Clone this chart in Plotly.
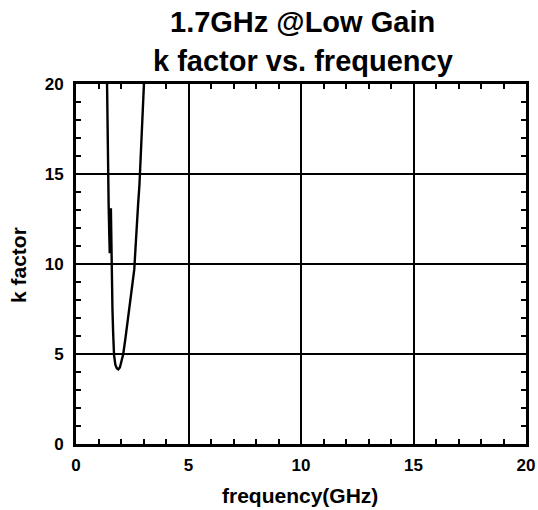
import plotly.graph_objects as go

# k factor sweep around the 1.7 GHz band (low gain mode)
freq_ghz = [1.38, 1.40, 1.42, 1.45, 1.48, 1.50, 1.55, 1.57, 1.59, 1.62, 1.65, 1.69,
            1.75, 1.82, 1.88, 1.95, 2.02, 2.10, 2.20, 2.30, 2.40, 2.50, 2.59, 2.65,
            2.70, 2.76, 2.82, 2.90, 2.97, 3.02]
k_factor = [20.0, 17.0, 15.0, 13.3, 11.6, 10.6, 13.1, 11.0, 9.5, 7.5, 6.2, 4.95,
            4.4, 4.2, 4.15, 4.25, 4.6, 5.0, 5.9, 6.8, 7.8, 8.7, 9.7, 11.0,
            12.3, 13.3, 14.4, 16.5, 18.5, 20.0]

x_ticks = [0, 5, 10, 15, 20]
y_ticks = [0, 5, 10, 15, 20]
title_lines = ["1.7GHz @Low Gain", "k factor vs. frequency"]
x_title = "frequency(GHz)"
y_title = "k factor"

font = "Liberation Sans, Arial, sans-serif"

fig = go.Figure(go.Scatter(
    x=freq_ghz, y=k_factor, mode="lines",
    line=dict(color="black", width=2.4),
    showlegend=False,
))

axis_common = dict(
    range=[0, 20],
    showline=True, linecolor="black", linewidth=3, mirror="allticks",
    showgrid=True, gridcolor="black", gridwidth=2,
    ticks="inside", ticklen=5, tickwidth=2, tickcolor="black",
    zeroline=False, automargin=False,
    tickfont=dict(family=font, size=17, color="black", weight="bold"),
    minor=dict(ticks="inside", ticklen=5, tickwidth=2, tickcolor="black",
               dtick=1, showgrid=False),
)

annotations = [
    dict(text=f"<b>{title_lines[0]}</b>", x=0.504, y=1.172,
         font=dict(family=font, size=29, color="black")),
    dict(text=f"<b>{title_lines[1]}</b>", x=0.504, y=1.065,
         font=dict(family=font, size=29, color="black")),
    dict(text=f"<b>{x_title}</b>", x=0.498, y=-0.142,
         font=dict(family=font, size=21, color="black")),
    dict(text=f"<b>{y_title}</b>", x=-0.129, y=0.497, textangle=-90,
         font=dict(family=font, size=21, color="black")),
]
for a in annotations:
    a.update(xref="paper", yref="paper", showarrow=False,
             xanchor="center", yanchor="middle")

fig.update_layout(
    width=538, height=510,
    margin=dict(l=76, r=12, t=84, b=66, autoexpand=False),
    paper_bgcolor="white", plot_bgcolor="white",
    xaxis=dict(tickvals=x_ticks, ticklabelstandoff=4, **axis_common),
    yaxis=dict(tickvals=y_ticks, ticklabelstandoff=6, **axis_common),
    annotations=annotations,
)

fig.write_html("out.html")
